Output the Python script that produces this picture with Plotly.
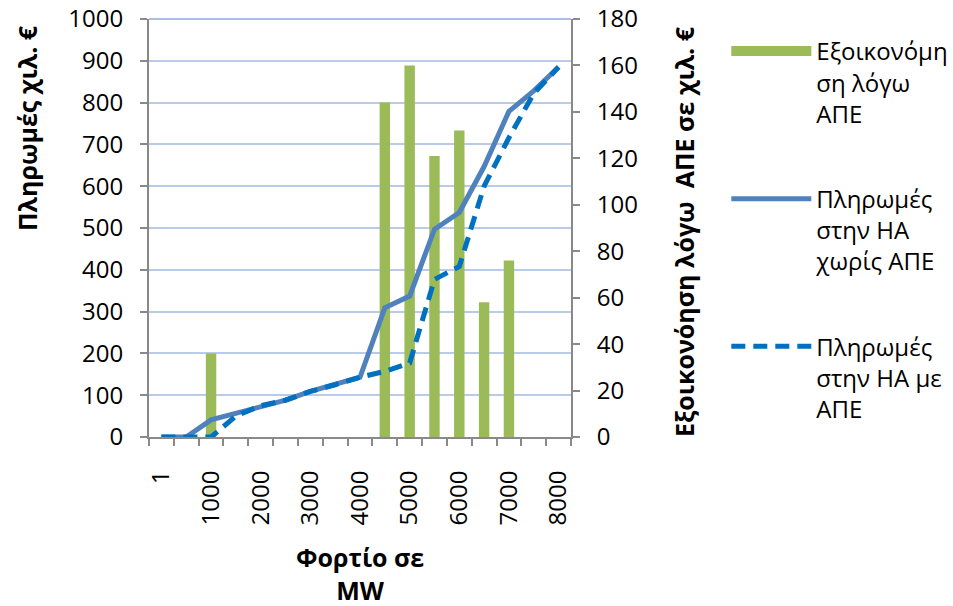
import plotly.graph_objects as go

# ---- data ----
categories = [1, 500, 1000, 1500, 2000, 2500, 3000, 3500, 4000,
              4500, 5000, 5500, 6000, 6500, 7000, 7500, 8000]
tick_labels = ["1", "1000", "2000", "3000", "4000", "5000", "6000", "7000", "8000"]
savings = [0, 0, 36, 0, 0, 0, 0, 0, 0, 144, 160, 121, 132, 58, 76, 0, 0]
pay_without_res = [0, 0, 41, 57, 75, 88, 109, 125, 143, 309, 337, 497, 537, 647, 779, 828, 885]
pay_with_res = [0, 0, 0, 50, 75, 88, 109, 125, 143, 157, 177, 377, 408, 600, 716, 822, 885]

name_bar = "Εξοικονόμη<br>ση λόγω<br>ΑΠΕ"
name_solid = "Πληρωμές<br>στην ΗΑ<br>χωρίς ΑΠΕ"
name_dash = "Πληρωμές<br>στην ΗΑ με<br>ΑΠΕ"

LEFT_MAX, RIGHT_MAX = 1000, 180

FONT = "Open Sans"
AXIS_GRAY = "#898989"
GRID = "#B9CAEB"
GREEN = "#9BBB59"

xpos = list(range(len(categories)))
tickvals = [categories.index(int(t)) for t in tick_labels]

fig = go.Figure()
fig.add_trace(go.Bar(x=xpos, y=savings, name=name_bar, yaxis="y",
                     marker=dict(color=GREEN, line=dict(width=0)),
                     width=0.42, showlegend=False, legendgroup="a"))
# legend entry for the bars (wide swatch, as in the original legend)
fig.add_trace(go.Scatter(x=[None], y=[None], name=name_bar, yaxis="y",
                         mode="lines", line=dict(color=GREEN, width=14),
                         legendgroup="a", hoverinfo="skip"))
fig.add_trace(go.Scatter(x=xpos, y=pay_without_res, name=name_solid, yaxis="y2",
                         mode="lines", line=dict(color="#4F81BD", width=5),
                         legendgroup="b"))
fig.add_trace(go.Scatter(x=xpos, y=pay_with_res, name=name_dash, yaxis="y2",
                         mode="lines", line=dict(color="#0070C0", width=5, dash="14px,8px"),
                         legendgroup="c"))

W, H = 953, 606
PL, PR, PT, PB = 149, 571.5, 19, 437.5   # plot area in screen pixels
L, R, T, B = PL, W - PR, PT, H - PB

def px_x(p):
    return (p - PL) / (PR - PL)

def px_y(p):
    return (PB - p) / (PB - PT)

common_y = dict(
    ticks="outside", ticklen=7, tickwidth=1.8, tickcolor=AXIS_GRAY,
    showline=True, linecolor=AXIS_GRAY, linewidth=2, zeroline=False,
    ticklabelstandoff=12, ticklabeloverflow="allow",
    tickfont=dict(size=24, family=FONT),
)

fig.update_layout(
    width=W, height=H,
    margin=dict(l=L, r=R, t=T, b=B, autoexpand=False),
    paper_bgcolor="white", plot_bgcolor="rgba(0,0,0,0)",
    font=dict(family=FONT, size=24, color="black"),
    barmode="overlay",
    xaxis=dict(
        range=[-0.5, len(categories) - 0.5],
        tickmode="array", tickvals=tickvals, ticktext=tick_labels,
        tickangle=-90, ticks="", showgrid=False, zeroline=False,
        showline=True, linecolor=AXIS_GRAY, linewidth=2,
        tickfont=dict(size=24, family=FONT),
        ticklabelstandoff=22, ticklabeloverflow="allow",
        minor=dict(tickmode="linear", tick0=0.5, dtick=1, ticks="outside",
                   ticklen=7, tickwidth=1.8, tickcolor=AXIS_GRAY, showgrid=False),
    ),
    yaxis=dict(side="right", range=[0, RIGHT_MAX], tickmode="linear", tick0=0, dtick=20,
               showgrid=False, **common_y),
    yaxis2=dict(side="left", overlaying="y", range=[0, LEFT_MAX], tickmode="linear",
                tick0=0, dtick=100, showgrid=True, gridcolor=GRID, gridwidth=1.5,
                **common_y),
    legend=dict(
        x=px_x(727), y=px_y(29), xanchor="left", yanchor="top",
        font=dict(size=24, family=FONT), valign="top",
        itemwidth=80, tracegroupgap=51, bgcolor="rgba(0,0,0,0)",
    ),
    showlegend=True,
)

# top gridline (at the axis maximum = top edge of the plot area); no data reaches it,
# so it can be drawn in the upper layer without covering any mark
fig.add_shape(type="line", xref="paper", x0=0, x1=1, yref="paper", y0=1, y1=1,
              line=dict(color="#A9BEE8", width=2), layer="above")

fig.add_annotation(text="Πληρωμές χιλ. €", textangle=-90, xref="paper", yref="paper",
                   x=px_x(27), y=px_y(128), xanchor="center", yanchor="middle",
                   showarrow=False, font=dict(size=25, family=FONT, weight="bold"))
fig.add_annotation(text="Εξοικονόηση λόγω\u00a0 ΑΠΕ σε χιλ. €", textangle=-90,
                   xref="paper", yref="paper",
                   x=px_x(684), y=px_y(232), xanchor="center", yanchor="middle",
                   showarrow=False, font=dict(size=25, family=FONT, weight="bold"))
# x-axis title
fig.add_annotation(text="Φορτίο σε<br>MW", xref="paper", yref="paper",
                   x=0.5, y=px_y(574), xanchor="center", yanchor="middle",
                   showarrow=False, font=dict(size=25, family=FONT, weight="bold"))

# remove the default 8px page margin so the figure fills the window exactly
fig.write_html("out.html", post_script="document.body.style.margin='0';",
               config={"displayModeBar": False})
